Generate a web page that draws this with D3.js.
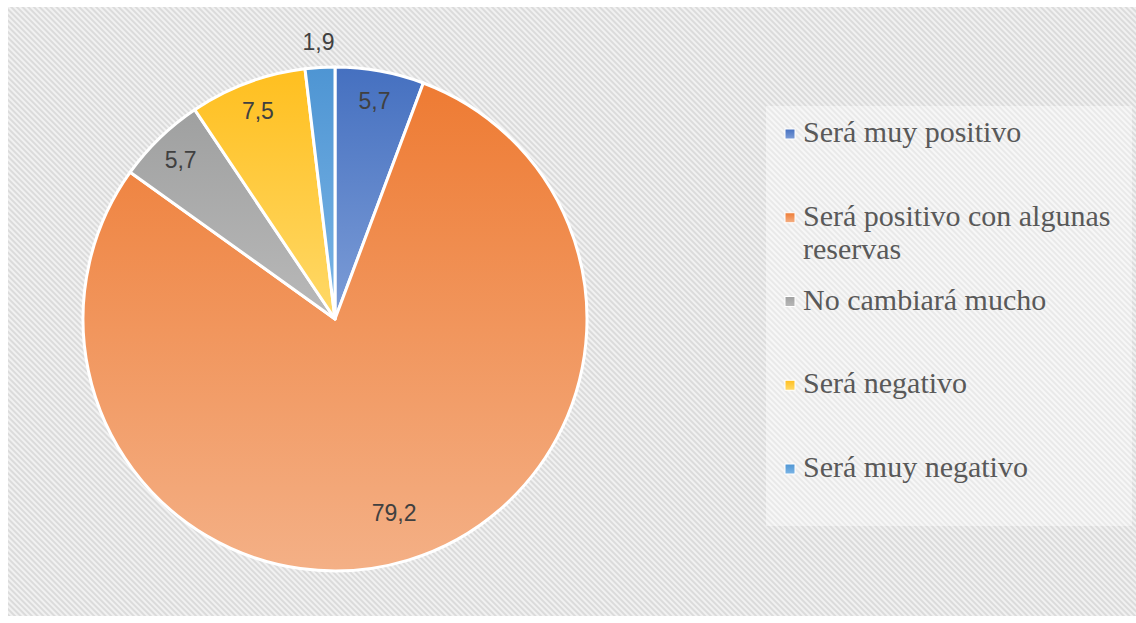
<!DOCTYPE html>
<html>
<head>
<meta charset="utf-8">
<script src="https://cdn.jsdelivr.net/npm/d3@7"></script>
<style>
  body { margin: 0; background: #fff; }
  svg { display: block; }
</style>
</head>
<body>
<div id="chart"></div>
<script>
// data
var categories = ["Será muy positivo", "Será positivo con algunas reservas", "No cambiará mucho", "Será negativo", "Será muy negativo"];
var values = [5.7, 79.2, 5.7, 7.5, 1.9];
var labels = ["5,7", "79,2", "5,7", "7,5", "1,9"];
// legend text split in lines
var legendLines = [["Será muy positivo"], ["Será positivo con algunas", "reservas"], ["No cambiará mucho"], ["Será negativo"], ["Será muy negativo"]];

// colours (top / bottom of gradient)
var colTop = ["#4570c0", "#ee7b33", "#9fa0a0", "#ffbf1f", "#4e95d3"];
var colBot = ["#7d9dd7", "#f4b086", "#b9b9b9", "#ffd968", "#7cb5e6"];
var labelPos = [0.88, 0.805, 0.88, 0.88, 1.1];

var W = 1136, H = 623;
var cx = 335, cy = 319, R = 252;

var svg = d3.select("#chart").append("svg")
    .attr("width", W)
    .attr("height", H);

var defs = svg.append("defs");

// hatch background
var pat = defs.append("pattern")
    .attr("id", "hatch")
    .attr("patternUnits", "userSpaceOnUse")
    .attr("width", 4).attr("height", 4)
    .attr("patternTransform", "rotate(45)");
pat.append("rect").attr("width", 4).attr("height", 4).attr("fill", "#f1f1f1");
pat.append("line").attr("x1", 0).attr("y1", 1).attr("x2", 4).attr("y2", 1)
    .attr("stroke", "#d6d6d6").attr("stroke-width", 1.6);

var pat2 = defs.append("pattern")
    .attr("id", "hatch2")
    .attr("patternUnits", "userSpaceOnUse")
    .attr("width", 4).attr("height", 4)
    .attr("patternTransform", "rotate(45)");
pat2.append("rect").attr("width", 4).attr("height", 4).attr("fill", "#f7f7f7");
pat2.append("line").attr("x1", 0).attr("y1", 1).attr("x2", 4).attr("y2", 1)
    .attr("stroke", "#e4e4e4").attr("stroke-width", 1.4);

// gradients for slices
values.forEach(function(v, i) {
  var g = defs.append("linearGradient")
      .attr("id", "grad" + i)
      .attr("x1", 0).attr("y1", 0).attr("x2", 0).attr("y2", 1);
  g.append("stop").attr("offset", "0%").attr("stop-color", colTop[i]);
  g.append("stop").attr("offset", "100%").attr("stop-color", colBot[i]);
});

svg.append("rect")
    .attr("x", 8).attr("y", 7)
    .attr("width", W - 8).attr("height", 609)
    .attr("fill", "url(#hatch)");

// pie
var pie = d3.pie().sort(null).value(function(d) { return d; });
var arcs = pie(values);
var arc = d3.arc().innerRadius(0).outerRadius(R);

var g = svg.append("g").attr("transform", "translate(" + cx + "," + cy + ")");

g.selectAll("path.slice")
  .data(arcs)
  .enter()
  .append("path")
    .attr("class", "slice")
    .attr("d", arc)
    .attr("fill", function(d, i) { return "url(#grad" + i + ")"; })
    .attr("stroke", "#fff")
    .attr("stroke-width", 3)
    .attr("stroke-linejoin", "round");

// data labels
g.selectAll("text.lbl")
  .data(arcs)
  .enter()
  .append("text")
    .attr("class", "lbl")
    .attr("transform", function(d, i) {
      var r = R * labelPos[i];
      var c = d3.arc().innerRadius(r).outerRadius(r).centroid(d);
      return "translate(" + c[0] + "," + c[1] + ")";
    })
    .attr("text-anchor", "middle")
    .attr("dy", "0.35em")
    .style("font-family", "'Liberation Sans', Arial, sans-serif")
    .style("font-size", "23px")
    .style("fill", "#404040")
    .text(function(d, i) { return labels[i]; });

// legend
var legend = svg.append("g");
legend.append("rect")
    .attr("x", 766).attr("y", 106)
    .attr("width", 366).attr("height", 420)
    .attr("fill", "url(#hatch2)");

var legY = d3.scalePoint()
    .domain(categories)
    .range([142, 477]);

var item = legend.selectAll("g.item")
  .data(categories)
  .enter()
  .append("g")
    .attr("class", "item")
    .attr("transform", function(d) { return "translate(785," + legY(d) + ")"; });

item.append("rect")
    .attr("x", 0).attr("y", -13)
    .attr("width", 10).attr("height", 10)
    .attr("fill", function(d, i) { return "url(#grad" + i + ")"; })
    .attr("stroke", "#fff")
    .attr("stroke-width", 1);

item.append("text")
    .attr("x", 18)
    .style("font-family", "'Liberation Serif', 'Times New Roman', serif")
    .style("font-size", "30px")
    .style("fill", "#595959")
    .each(function(d, i) {
      var t = d3.select(this);
      legendLines[i].forEach(function(line, j) {
        t.append("tspan")
          .attr("x", 18)
          .attr("dy", j === 0 ? 0 : 33)
          .text(line);
      });
    });
</script>
</body>
</html>
